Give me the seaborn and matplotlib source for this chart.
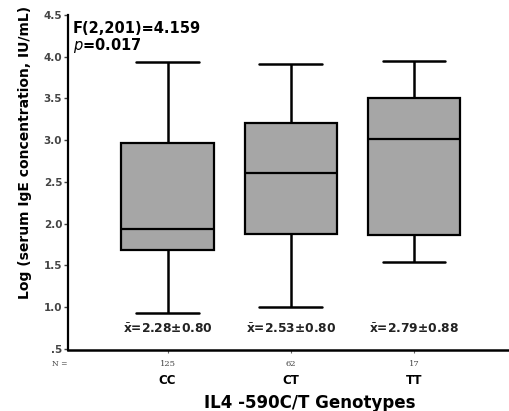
import numpy as np
import pandas as pd
import matplotlib
matplotlib.use("Agg")
import matplotlib.pyplot as plt
import seaborn as sns

genotypes = ["CC", "CT", "TT"]
counts = [125, 62, 17]
whisker_low = [0.93, 1.00, 1.54]
q1 = [1.68, 1.88, 1.87]
median = [1.94, 2.61, 3.01]
q3 = [2.97, 3.21, 3.51]
whisker_high = [3.94, 3.91, 3.95]
mean_labels = ["2.28", "2.53", "2.79"]
sd_labels = ["0.80", "0.80", "0.88"]
ytick_vals = [0.5, 1.0, 1.5, 2.0, 2.5, 3.0, 3.5, 4.0, 4.5]
ytick_labels = [".5", "1.0", "1.5", "2.0", "2.5", "3.0", "3.5", "4.0", "4.5"]

rows = []
for i, g in enumerate(genotypes):
    for v in (whisker_low[i], q1[i], median[i], q3[i], whisker_high[i]):
        rows.append({"Genotype": g, "value": v})
df = pd.DataFrame(rows)

sns.set_theme(style="white")
plt.rcParams["font.family"] = ["DejaVu Sans"]
plt.rcParams["text.color"] = "black"

fig = plt.figure(figsize=(5.1, 4.11), dpi=100)
ax = fig.add_axes([0.133, 0.148, 0.867, 0.8155])

sns.boxplot(data=df, x="Genotype", y="value", order=genotypes, whis=(0, 100),
            width=0.75, color="#a6a6a6", saturation=1, linewidth=1.6,
            linecolor="black", showfliers=False, capwidths=0.51, ax=ax,
            boxprops=dict(facecolor="#a6a6a6", edgecolor="black", linewidth=1.6),
            whiskerprops=dict(color="black", linewidth=1.8),
            capprops=dict(color="black", linewidth=1.8),
            medianprops=dict(color="black", linewidth=1.6))

ax.set_xlim(-0.81, 2.78)
ax.set_ylim(0.485, 4.5)
ax.set_yticks(ytick_vals)
ax.set_yticklabels(ytick_labels, fontsize=7.5, color="#444444", fontweight="bold")
ax.tick_params(axis="y", length=3, width=1, color="#444444", left=True, pad=1)
ax.tick_params(axis="x", length=2, width=0.8, bottom=True, color="#666666")
ax.set_xticks(range(len(genotypes)))
ax.set_xticklabels([])
for s in ["top", "right"]:
    ax.spines[s].set_visible(False)
ax.spines["left"].set_linewidth(1.6)
ax.spines["bottom"].set_linewidth(1.8)
ax.spines["left"].set_color("black")
ax.spines["bottom"].set_color("black")

ax.set_xlabel("")
ax.set_ylabel("")

trans = ax.get_xaxis_transform()
for i, g in enumerate(genotypes):
    ax.text(i, -0.04, str(counts[i]), transform=trans, ha="center", va="center",
            fontsize=6, color="#444444", family="DejaVu Serif")
    ax.text(i, -0.09, g, transform=trans, ha="center", va="center",
            fontsize=8.5, fontweight="bold", color="black")
    ax.text(i, 0.73, r"$\bar{\mathbf{x}}$" + "=" + mean_labels[i] + "\u00b1" + sd_labels[i],
            ha="center", va="center", fontsize=8.8, fontweight="bold", color="#222222")
ax.text(-0.81, -0.04, "N =", transform=trans, ha="right", va="center",
        fontsize=5.5, color="#444444", family="DejaVu Serif")

ax.text(-0.77, 4.34, "F(2,201)=4.159", ha="left", va="center",
        fontsize=10.5, fontweight="bold", color="black")
ax.text(-0.77, 4.13, r"$\mathbf{\it{p}}$=0.017", ha="left", va="center",
        fontsize=10.5, fontweight="bold", color="black")

fig.text(0.608, 0.02, "IL4 -590C/T Genotypes", ha="center", va="center",
         fontsize=12, fontweight="bold", color="black")
fig.text(0.05, 0.63, "Log (serum IgE concentration, IU/mL)", ha="center", va="center",
         rotation=90, fontsize=10, fontweight="bold", color="black")

fig.savefig("out.png", dpi=100)
